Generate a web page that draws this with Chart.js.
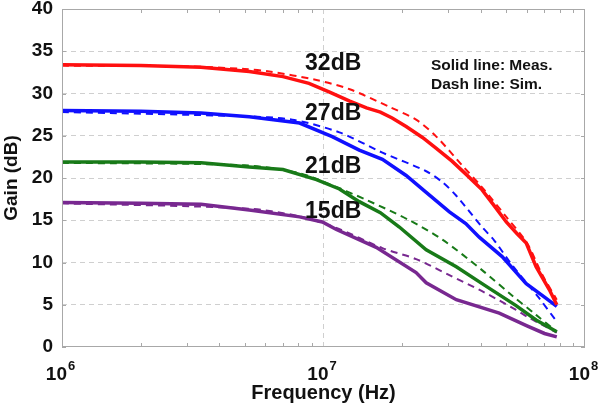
<!DOCTYPE html>
<html>
<head>
<meta charset="utf-8">
<script src="https://cdn.jsdelivr.net/npm/chart.js@4/dist/chart.umd.min.js"></script>
<style>
html,body{margin:0;padding:0;background:#fff;}
#wrap{width:600px;height:409px;position:relative;}
</style>
</head>
<body>
<div id="wrap"><canvas id="c" width="600" height="409"></canvas></div>
<script>
// ---- data (frequency in Hz, gain in dB) ----
const redMeasF = [1e6, 2e6, 3.4e6, 5.2e6, 7e6, 8.8e6, 1.05e7, 1.26e7, 1.46e7, 1.65e7, 1.83e7, 2.07e7, 2.39e7, 2.7e7, 3.1e7, 3.52e7, 4.04e7, 4.5e7, 5e7, 5.5e7, 5.96e7, 6.5e7, 7.3e7, 7.8e7];
const redMeasG = [33.4, 33.3, 33.1, 32.6, 32.0, 31.2, 30.2, 29.1, 28.3, 27.8, 27.1, 26.1, 24.8, 23.5, 22.0, 20.4, 18.6, 16.7, 14.8, 13.4, 12.3, 9.5, 6.8, 5.0];
const redSimF = [1e6, 3e6, 5e6, 6.2e6, 9.4e6, 1.26e7, 1.79e7, 2.26e7, 2.7e7, 3.39e7, 4.04e7, 5e7, 6e7, 6.85e7, 7.8e7];
const redSimG = [33.3, 33.2, 32.9, 32.6, 31.6, 30.5, 28.4, 26.9, 24.9, 21.5, 18.9, 15.4, 12.3, 8.6, 5.6];

const blueMeasF = [1e6, 2e6, 3.4e6, 5.2e6, 8.1e6, 1.08e7, 1.37e7, 1.68e7, 2.07e7, 2.47e7, 3.03e7, 3.5e7, 3.94e7, 4.82e7, 5.96e7, 7e7, 7.8e7];
const blueMeasG = [28.0, 27.9, 27.7, 27.25, 26.5, 24.9, 23.3, 22.2, 20.3, 18.3, 16.0, 14.6, 13.0, 10.7, 7.5, 5.9, 4.8];
const blueSimF = [1e6, 5e6, 7.6e6, 1.15e7, 1.68e7, 2.47e7, 2.85e7, 3.22e7, 4.04e7, 4.5e7, 5.26e7, 6.67e7, 7.8e7];
const blueSimG = [27.8, 27.3, 26.9, 25.4, 23.0, 20.8, 19.5, 17.9, 14.2, 12.6, 9.7, 5.8, 3.0];

const greenMeasF = [1e6, 2e6, 3.4e6, 5.2e6, 7e6, 9.4e6, 1.15e7, 1.37e7, 1.65e7, 1.95e7, 2.47e7, 3.22e7, 4.04e7, 5.45e7, 6.5e7, 7.8e7];
const greenMeasG = [21.9, 21.9, 21.8, 21.3, 21.0, 19.8, 18.7, 17.2, 15.9, 14.2, 11.5, 9.5, 7.5, 4.9, 3.2, 1.8];
const greenSimF = [1e6, 5e6, 8e6, 1.03e7, 1.46e7, 2.13e7, 2.85e7, 4.04e7, 5.26e7, 6.5e7, 7.8e7];
const greenSimG = [21.8, 21.5, 20.6, 19.4, 17.4, 15.0, 12.7, 9.1, 6.1, 3.8, 1.8];

const purpleMeasF = [1e6, 2e6, 3.4e6, 5.2e6, 8.1e6, 9.9e6, 1.12e7, 1.59e7, 2.26e7, 2.47e7, 3.22e7, 4.7e7, 6e7, 7e7, 7.8e7];
const purpleMeasG = [17.1, 17.0, 16.9, 16.2, 15.4, 14.8, 13.9, 11.8, 8.8, 7.6, 5.6, 4.0, 2.5, 1.6, 1.2];
const purpleSimF = [1e6, 5e6, 8e6, 1.12e7, 1.68e7, 2.26e7, 3.03e7, 4.04e7, 5.45e7, 6e7, 7.8e7];
const purpleSimG = [17.0, 16.4, 15.5, 14.1, 11.7, 10.4, 8.5, 6.6, 4.4, 3.6, 1.7];

const yTicks = [0, 5, 10, 15, 20, 25, 30, 35, 40];
const xDecades = [1e6, 1e7, 1e8];
const curveLabels = ['32dB', '27dB', '21dB', '15dB'];
const noteLines = ['Solid line: Meas.', 'Dash line: Sim.'];

const FONT = '"Liberation Sans", Arial, sans-serif';

function pts(f, g) { return f.map((v, i) => ({x: v, y: g[i]})); }
function meas(f, g, c) {
  return {data: pts(f, g), borderColor: c, borderWidth: 3.5, pointRadius: 0, tension: 0, fill: false};
}
function sim(f, g, c) {
  return {data: pts(f, g), borderColor: c, borderWidth: 2, borderDash: [7, 5], pointRadius: 0, tension: 0.3, fill: false};
}

const RED = '#ff1010', BLUE = '#1010ff', GREEN = '#187a18', PURPLE = '#782890';

const decor = {
  id: 'decor',
  afterDraw(chart) {
    const {ctx, chartArea: a, scales: {x, y}} = chart;
    ctx.save();
    // frame
    ctx.strokeStyle = '#a8a8a8';
    ctx.lineWidth = 1;
    ctx.setLineDash([]);
    ctx.strokeRect(a.left + 0.5, a.top + 0.5, a.right - a.left - 1, a.bottom - a.top - 1);
    // inward minor ticks
    ctx.beginPath();
    for (let d = 1e6; d < 1e8; d *= 10) {
      for (let m = 2; m <= 9; m++) {
        const px = Math.round(x.getPixelForValue(d * m)) + 0.5;
        ctx.moveTo(px, a.bottom); ctx.lineTo(px, a.bottom - 4);
        ctx.moveTo(px, a.top); ctx.lineTo(px, a.top + 4);
      }
    }
    yTicks.forEach(v => {
      const py = Math.round(y.getPixelForValue(v)) + 0.5;
      ctx.moveTo(a.left, py); ctx.lineTo(a.left + 4, py);
      ctx.moveTo(a.right, py); ctx.lineTo(a.right - 4, py);
    });
    ctx.stroke();
    // x decade labels 10^n
    ctx.fillStyle = '#111';
    xDecades.forEach(v => {
      const px = x.getPixelForValue(v);
      const exp = String(Math.round(Math.log10(v)));
      ctx.font = 'bold 19px ' + FONT;
      ctx.textAlign = 'right';
      ctx.textBaseline = 'alphabetic';
      ctx.fillText('10', px + 5, 380);
      ctx.font = 'bold 13px ' + FONT;
      ctx.textAlign = 'left';
      ctx.fillText(exp, px + 6, 370);
    });
    // curve labels
    ctx.font = 'bold 23px ' + FONT;
    ctx.textAlign = 'left';
    ctx.textBaseline = 'alphabetic';
    const baselines = [70, 120, 173, 218];
    const lx = x.getPixelForValue(8.5e6);
    curveLabels.forEach((t, i) => ctx.fillText(t, lx, baselines[i]));
    // notes
    ctx.font = 'bold 15.5px ' + FONT;
    ctx.fillText(noteLines[0], 431, 70);
    ctx.fillText(noteLines[1], 431, 89);
    ctx.restore();
  }
};

new Chart(document.getElementById('c'), {
  type: 'line',
  data: {
    datasets: [
      meas(redMeasF, redMeasG, RED), sim(redSimF, redSimG, RED),
      meas(blueMeasF, blueMeasG, BLUE), sim(blueSimF, blueSimG, BLUE),
      meas(greenMeasF, greenMeasG, GREEN), sim(greenSimF, greenSimG, GREEN),
      meas(purpleMeasF, purpleMeasG, PURPLE), sim(purpleSimF, purpleSimG, PURPLE)
    ]
  },
  options: {
    responsive: false,
    animation: false,
    events: [],
    layout: {padding: {left: 0, right: 15, top: 9, bottom: 0}},
    plugins: {legend: {display: false}, tooltip: {enabled: false}},
    scales: {
      x: {
        type: 'logarithmic',
        min: 1e6, max: 1e8,
        afterFit(s) { s.height = 62; s.paddingLeft = 0; s.paddingRight = 0; },
        grid: {
          drawTicks: false,
          color: c => (c.tick && c.tick.value === 1e7) ? '#cfcfcf' : 'rgba(0,0,0,0)',
          lineWidth: 1
        },
        border: {display: false, dash: [5, 4]},
        ticks: {display: false},
        title: {display: true, text: 'Frequency (Hz)', color: '#111',
                font: {family: FONT, size: 20, weight: 'bold'}, padding: {top: 0, bottom: 4}}
      },
      y: {
        min: 0, max: 40,
        afterFit(s) { s.width = 62; s.paddingTop = 0; s.paddingBottom = 0; },
        afterBuildTicks(s) { s.ticks = yTicks.map(v => ({value: v})); },
        grid: {
          drawTicks: false,
          color: c => (c.tick && c.tick.value > 0 && c.tick.value < 40) ? '#cfcfcf' : 'rgba(0,0,0,0)',
          lineWidth: 1
        },
        border: {display: false, dash: [5, 4]},
        ticks: {color: '#111', padding: 9, font: {family: FONT, size: 19, weight: 'bold'}},
        title: {display: true, text: 'Gain (dB)', color: '#111',
                font: {family: FONT, size: 19, weight: 'bold'}, padding: {top: 0, bottom: 0}}
      }
    }
  },
  plugins: [decor]
});
</script>
</body>
</html>
